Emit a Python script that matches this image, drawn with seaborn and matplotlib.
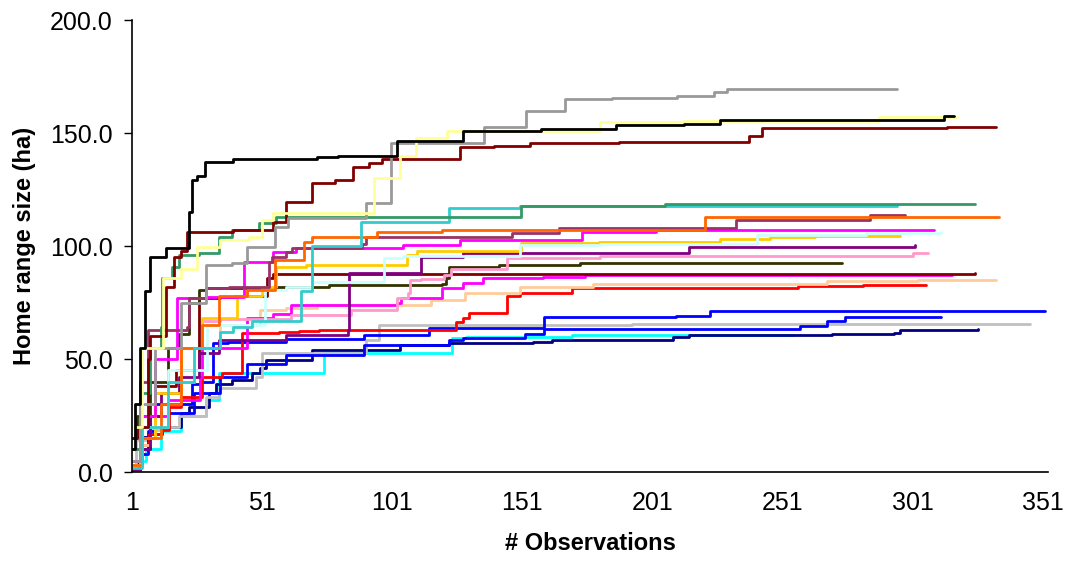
import pandas as pd
import seaborn as sns
import matplotlib.pyplot as plt

# home range size (ha) vs number of observations, one line per animal
# breakpoints, drawn as steps
gray_x = [1, 4, 10, 20, 29.5, 39.5, 45, 56, 61, 91, 100.6, 136.4, 152.5, 167.5, 185.6, 210.6, 224.8, 229.5, 295]
gray_y = [5, 30, 55, 75, 91.6, 92.5, 99.6, 108.4, 112.4, 119, 145.6, 152.6, 159.7, 165, 165.5, 166.4, 168, 169.3, 169.3]

yellow_x = [1, 5, 13, 20, 26, 35, 46, 51, 55, 94, 104, 110, 122, 181, 213, 255, 288, 318]
yellow_y = [20, 55, 86, 90, 99.6, 102.6, 104, 111.5, 114.6, 130, 140, 148, 151, 155, 155.5, 155.5, 157.2, 157.2]

darkred_x = [1, 3, 7, 8, 14, 17, 20, 22, 40, 55, 60, 70, 79, 86, 92, 97, 127, 140, 154, 188, 238, 243, 314, 333]
darkred_y = [15, 20, 50, 60, 82, 95, 98, 106, 107, 110.6, 119.5, 128, 129, 135, 136.7, 138.5, 143.8, 144.2, 145.7, 146.2, 148.8, 152, 152.5, 152.5]

seagreen_x = [1, 4, 8, 12, 12.5, 16.4, 19, 26.8, 34.5, 39.5, 49.8, 56.4, 150.6, 206, 325]
seagreen_y = [10, 35, 55, 64, 86, 90.7, 96, 97, 104, 107, 110, 112.8, 117.7, 118.6, 118.6]

turq_x = [1, 5, 15, 25, 35, 40, 47, 65, 66, 70, 88, 89, 123, 150, 295]
turq_y = [2, 20, 40, 55, 62, 64, 67, 67, 80, 100, 100, 110.6, 116.8, 117.8, 118]

orange_x = [1, 5, 12, 20, 28, 34.5, 45, 56, 65, 67, 70, 95, 120, 221, 334]
orange_y = [3, 15, 30, 55, 65, 78, 80.5, 94, 94, 101.7, 104, 106, 107, 113, 113]

plum_x = [1, 4, 7, 22, 23, 29.5, 38.3, 53.7, 54.8, 60, 62.5, 89.5, 91, 147, 165, 233, 284.5, 298]
plum_y = [10, 40, 63, 64, 77, 81.4, 82, 93, 95, 97.3, 99, 101, 104, 105.8, 108, 111.5, 113.7, 113.7]

magenta_x = [1, 4, 10, 18.3, 30, 44, 55, 64, 105, 127, 174, 202.5, 309]
magenta_y = [5, 25, 50, 77, 77.5, 93, 97.3, 99, 100.4, 102.6, 106, 107, 107]

lightcyan_x = [1, 5, 15, 30, 52, 60, 70, 98, 105, 150, 181, 241, 283, 312]
lightcyan_y = [3, 20, 45, 65, 80.5, 82, 84, 94.7, 95.6, 100.4, 101, 104.9, 105.8, 106]

gold_x = [1, 4, 10, 20, 28, 41.4, 51, 56.4, 68, 106.8, 110.6, 150.6, 180.6, 226.8, 246, 263.3, 296]
gold_y = [3, 15, 35, 55, 68, 78, 82, 90.7, 91.6, 96, 98, 101.3, 101.8, 103, 104, 104.4, 104.4]

purple_x = [1, 4, 8, 12, 19, 26.8, 34.5, 60, 84, 84.5, 112, 128, 215, 302]
purple_y = [1, 10, 25, 35, 42, 52.6, 58.4, 60.5, 63, 88, 95, 97, 99.6, 100.4]

pink_x = [1, 4, 10, 20, 28, 35, 62, 85, 103, 107, 108, 112, 121, 123.5, 145, 181, 301, 307]
pink_y = [3, 15, 35, 55, 67, 67.5, 69.5, 71.7, 77, 79, 85, 85.5, 87, 90, 94.7, 95.6, 96.8, 96.8]

olive_x = [1, 3, 8, 15, 19, 23, 26.8, 29.5, 56.4, 76.8, 120, 121.8, 123, 142, 173, 274]
olive_y = [15, 25, 40, 55, 61, 74.8, 80.5, 81.4, 82, 82.7, 83, 85.8, 90.7, 91.6, 92.5, 92.5]

darkred2_x = [1, 4, 10, 18, 26.8, 35, 41, 53, 55, 325]
darkred2_y = [5, 20, 38, 45, 77, 77.5, 78, 86, 87.5, 88]

magenta2_x = [1, 4, 8, 15, 27, 28, 44, 45, 55, 62, 103, 104.5, 120, 128, 136, 159, 175, 316]
magenta2_y = [3, 15, 25, 32, 42, 55, 55, 68, 70, 74, 74.8, 77, 81.4, 83.6, 85.8, 86.3, 87, 87]

peach_x = [1, 4, 8, 15, 25, 35, 50, 60, 72, 104, 116, 129, 150, 178, 268, 303, 333]
peach_y = [3, 12, 25, 40, 55, 65, 71.7, 72.5, 74, 74, 76, 79, 82, 83, 84.5, 85, 85]

red_x = [1, 4, 7.5, 12.5, 15.2, 20, 28, 35.6, 43.3, 57.5, 65, 73, 125.6, 128, 130.6, 145, 150, 170, 257, 282, 306]
red_y = [3, 12, 17, 18.5, 28.8, 33, 42, 43.8, 61.5, 62, 62.4, 62.8, 66.4, 68, 70.4, 78, 79, 81.4, 82.3, 82.7, 82.7]

blue_x = [1, 4, 7, 10, 24, 27, 32, 38, 60, 90, 115, 159.5, 210, 223, 352]
blue_y = [1, 8, 18, 30, 39, 40, 57, 57.5, 59, 60.6, 63.7, 68.6, 69, 71.2, 71.2]

blue2_x = [1, 4, 8, 15, 25, 35, 45, 60, 90, 123, 128, 152, 159.5, 257.5, 268, 275, 312]
blue2_y = [1, 10, 20, 26, 35, 42, 48, 52, 56, 58.4, 59.3, 61, 63.3, 64.6, 66.8, 68.6, 68.6]

lgray_x = [1, 2.5, 7.5, 15, 19, 29.5, 34.5, 47, 48.7, 51, 91, 96, 193, 346]
lgray_y = [1, 14, 18.5, 20, 25, 33, 37, 37, 42, 52.6, 58.4, 65, 65.7, 65.7]

navy_x = [1, 3, 4.8, 7.5, 12.5, 20, 23, 30.6, 33.3, 39.5, 47, 50, 52.5, 70, 104, 123, 155, 162.5, 209, 215, 270, 294, 296, 326]
navy_y = [1, 5, 15.5, 17, 20, 26, 28.8, 35, 39, 40.7, 43.8, 46, 49.5, 54, 56, 57, 57.5, 58.4, 59.7, 60.6, 61, 61.5, 62.8, 63.3]

cyan_x = [1, 3.7, 6.4, 12, 20, 29.5, 34.5, 65, 74.8, 124, 129.5, 170, 255]
cyan_y = [1, 5, 10, 18, 25, 31.8, 44, 44, 52.6, 59.3, 59.7, 60.6, 60.6]

black_x = [1, 2, 4, 6, 8, 14, 22, 23, 24, 26, 29, 40, 72, 80, 103, 128, 158, 187, 213, 227, 313, 317]
black_y = [10, 30, 55, 80, 95, 99, 99, 115, 129, 131, 137, 138.5, 139.5, 140, 146.5, 151, 151.6, 153.5, 154, 155.7, 157.5, 157.5]

lines = [
    ("cyan", cyan_x, cyan_y, "#00FFFF"),
    ("navy", navy_x, navy_y, "#000080"),
    ("lgray", lgray_x, lgray_y, "#C0C0C0"),
    ("blue2", blue2_x, blue2_y, "#0000FF"),
    ("blue", blue_x, blue_y, "#0000FF"),
    ("red", red_x, red_y, "#FF0000"),
    ("peach", peach_x, peach_y, "#FFCC99"),
    ("magenta2", magenta2_x, magenta2_y, "#FF00FF"),
    ("darkred2", darkred2_x, darkred2_y, "#800000"),
    ("olive", olive_x, olive_y, "#333300"),
    ("pink", pink_x, pink_y, "#FF99CC"),
    ("purple", purple_x, purple_y, "#800080"),
    ("gold", gold_x, gold_y, "#FFCC00"),
    ("lightcyan", lightcyan_x, lightcyan_y, "#CCFFFF"),
    ("magenta", magenta_x, magenta_y, "#FF00FF"),
    ("plum", plum_x, plum_y, "#993366"),
    ("orange", orange_x, orange_y, "#FF6600"),
    ("turq", turq_x, turq_y, "#33CCCC"),
    ("seagreen", seagreen_x, seagreen_y, "#339966"),
    ("darkred", darkred_x, darkred_y, "#800000"),
    ("gray", gray_x, gray_y, "#999999"),
    ("yellow", yellow_x, yellow_y, "#FFFF99"),
    ("black", black_x, black_y, "#000000"),
]

frames = []
for name, xs, ys, col in lines:
    frames.append(pd.DataFrame({"obs": xs, "ha": ys, "animal": name}))
df = pd.concat(frames, ignore_index=True)
palette = {name: col for name, xs, ys, col in lines}

sns.set_style("white")
plt.rcParams["font.family"] = ["Liberation Sans", "DejaVu Sans"]
plt.rcParams["text.color"] = "black"
plt.rcParams["axes.labelcolor"] = "black"
plt.rcParams["xtick.color"] = "black"
plt.rcParams["ytick.color"] = "black"

fig = plt.figure(figsize=(10.68, 5.67), dpi=100)
ax = fig.add_axes([0.1236, 0.1675, 0.8577, 0.7972])

sns.lineplot(data=df, x="obs", y="ha", hue="animal", hue_order=[l[0] for l in lines],
             palette=palette, estimator=None, sort=False, drawstyle="steps-post",
             linewidth=2, legend=False, ax=ax)

ax.set_xlim(1, 353)
ax.set_ylim(0, 200)
ax.set_xticks(range(1, 352, 50))
ax.set_yticks(range(0, 201, 50))
ax.set_yticklabels([f"{v:.1f}" for v in range(0, 201, 50)])
ax.tick_params(axis="x", length=0, pad=14, labelsize=18, colors="black")
ax.tick_params(axis="y", length=6, width=1, pad=8, labelsize=18, left=True,
               direction="out", colors="black")

for s in ["top", "right"]:
    ax.spines[s].set_visible(False)
for s in ["left", "bottom"]:
    ax.spines[s].set_color("black")
    ax.spines[s].set_linewidth(1.2)

ax.set_xlabel("# Observations", fontsize=17, fontweight="bold", labelpad=12)
ax.set_ylabel("Home range size (ha)", fontsize=17, fontweight="bold", labelpad=10)

fig.savefig("out.png", dpi=100)
